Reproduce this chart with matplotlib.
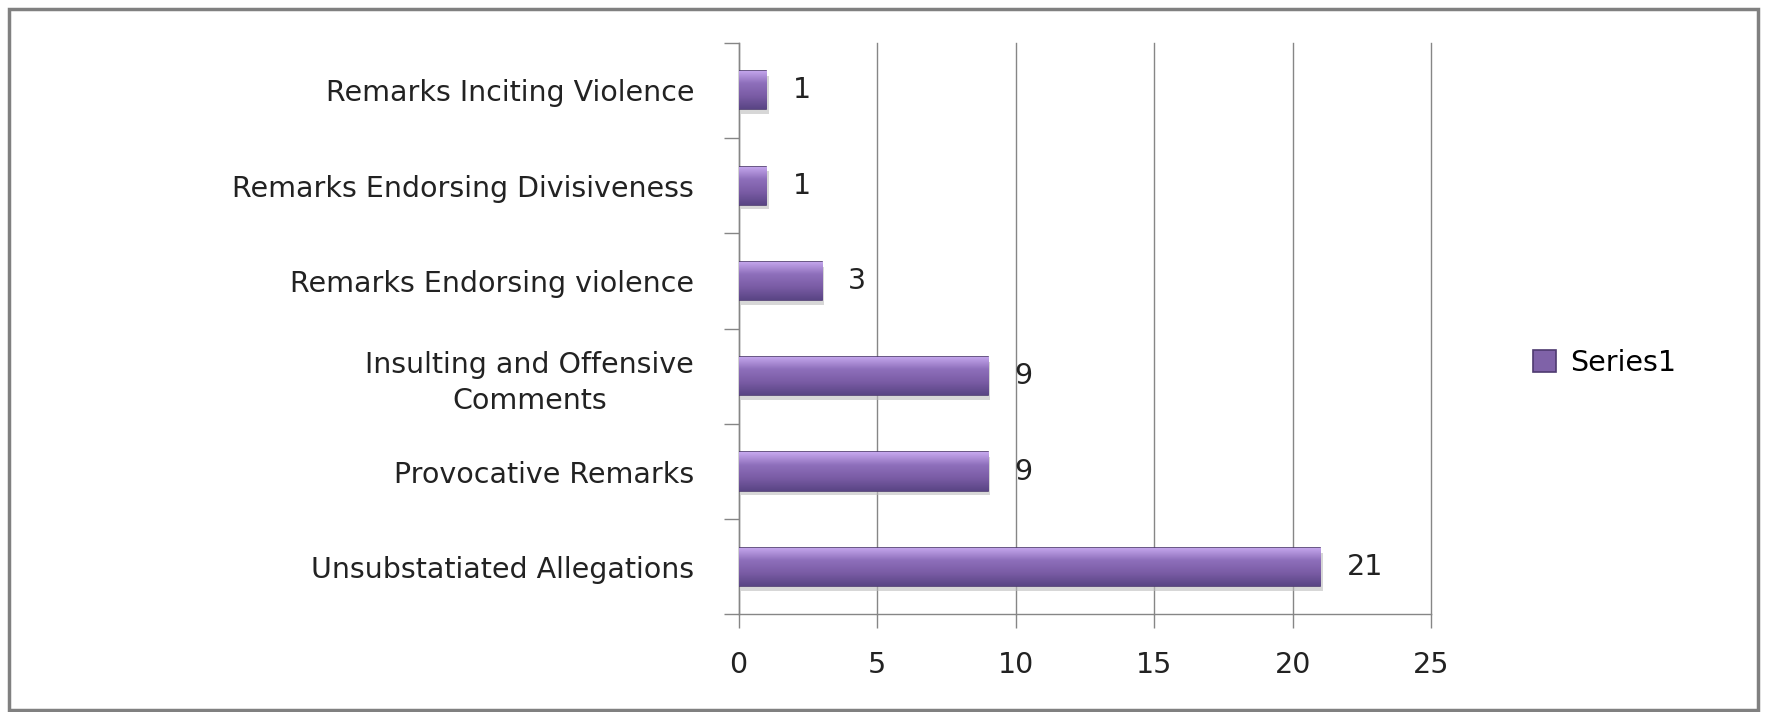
import numpy as np
import matplotlib.pyplot as plt
from matplotlib.patches import Rectangle
from matplotlib.ticker import FixedLocator
from matplotlib.colors import LinearSegmentedColormap

categories = ["Unsubstatiated Allegations", "Provocative Remarks",
              "Insulting and Offensive\nComments", "Remarks Endorsing violence",
              "Remarks Endorsing Divisiveness", "Remarks Inciting Violence"]
values = [21, 9, 9, 3, 1, 1]
series_name = "Series1"

plt.rcParams['font.family'] = ['DejaVu Sans']
fs = 20.5
txt_color = "#222222"

fig = plt.figure(figsize=(17.67, 7.12), dpi=100)
ax = fig.add_axes([0.418, 0.137, 0.392, 0.803])

y = np.arange(len(categories))
bars = ax.barh(y, values, height=0.4, color="#7f62a8", edgecolor="#4e3a70",
               linewidth=1.2, label=series_name, zorder=3)

# vertical gradient inside each bar, plus a soft shadow
grad = np.linspace(0, 1, 64).reshape(-1, 1)
cmap = LinearSegmentedColormap.from_list(
    "bar", ["#5a4585", "#7a5ca5", "#8e6fbb", "#c6a8ee"])
for b in bars:
    x0, y0 = b.get_x(), b.get_y()
    w, h = b.get_width(), b.get_height()
    ax.add_patch(Rectangle((x0 + 0.08, y0 - 0.05), w, h, color="#bdbdbd",
                           alpha=0.6, zorder=2, lw=0))
    im = ax.imshow(grad, extent=(x0, x0 + w, y0, y0 + h), origin="lower",
                   cmap=cmap, aspect="auto", zorder=3.5)
    im.set_clip_path(b)
    ax.annotate(str(int(w)), (x0 + w, y0 + h / 2), xytext=(19, 0),
                textcoords="offset points", ha="left", va="center",
                fontsize=fs, color=txt_color)

ax.set_xlim(0, 25)
ax.set_ylim(-0.5, len(categories) - 0.5)
ax.set_xticks(np.arange(0, 26, 5))
ax.set_yticks(y)
ax.set_yticklabels(categories, fontsize=fs, color=txt_color,
                   multialignment="center", linespacing=1.35)
ax.yaxis.set_minor_locator(FixedLocator(np.arange(-0.5, len(categories), 1)))
ax.tick_params(axis="y", which="major", length=0, pad=32)
ax.tick_params(axis="y", which="minor", length=11, color="#868686", width=1)
ax.tick_params(axis="x", which="major", length=10, color="#868686", width=1,
               labelsize=fs, labelcolor=txt_color, pad=16)
ax.grid(axis="x", color="#868686", linewidth=1, zorder=0)
for gl in ax.get_xgridlines():
    gl.set_clip_on(False)
for s in ["top", "right"]:
    ax.spines[s].set_visible(False)
for s in ["left", "bottom"]:
    ax.spines[s].set_color("#868686")
    ax.spines[s].set_linewidth(1)

fig.legend(handles=[bars], labels=[series_name], loc="center left",
           bbox_to_anchor=(0.853, 0.49), frameon=False, fontsize=fs,
           handlelength=0.8, handleheight=0.8, handletextpad=0.5)

fig.patches.append(Rectangle((0.005, 0.003), 0.99, 0.985, transform=fig.transFigure,
                             fill=False, edgecolor="#808080", linewidth=2.5))

fig.savefig("out.png", dpi=100)
